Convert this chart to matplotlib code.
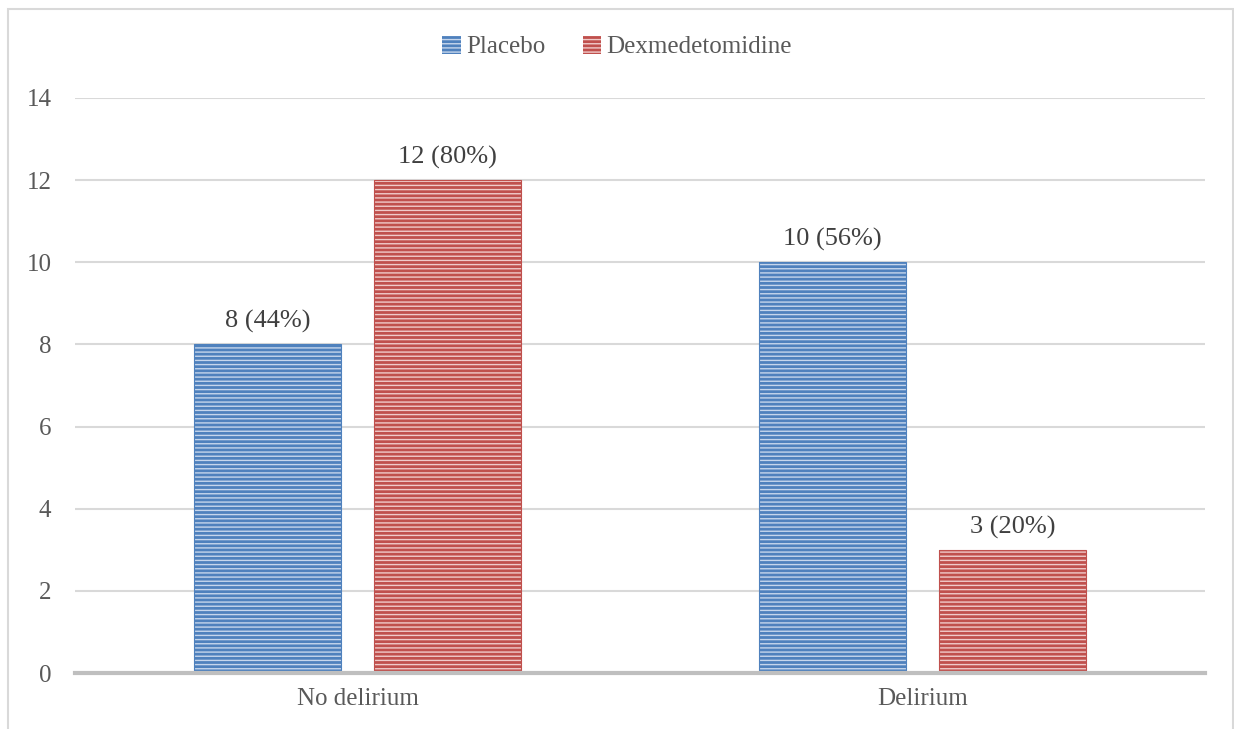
import numpy as np
import matplotlib
matplotlib.use("Agg")
import matplotlib.pyplot as plt
from matplotlib.patches import Rectangle, Patch

categories = ["No delirium", "Delirium"]
series = ["Placebo", "Dexmedetomidine"]
placebo = [8, 10]
dexmed = [12, 3]
placebo_labels = ["8 (44%)", "10 (56%)"]
dexmed_labels = ["12 (80%)", "3 (20%)"]

face_colors = ["#4f81bd", "#c0504d"]
stripe_colors = ["#c6d6ec", "#f0cbca"]

plt.rcParams["font.family"] = ["Liberation Serif", "DejaVu Serif"]
plt.rcParams["hatch.linewidth"] = 1.0

fig = plt.figure(figsize=(12.34, 7.29), dpi=100)
ax = fig.add_axes([0.0608, 0.0768, 0.9157, 0.7888])

# light frame around the chart area
fig.patches.append(Rectangle((8 / 1234, -0.1), 1225 / 1234, 1.1 - 9 / 729,
                             transform=fig.transFigure, fill=False,
                             edgecolor="#d9d9d9", linewidth=1.5))

x = np.arange(len(categories))
width = 0.26
offset = 0.159


def striped_bars(pos, vals, face, stripe):
    ax.bar(pos, vals, width, color=face, edgecolor="none", zorder=2)
    ax.bar(pos, vals, width, facecolor="none", edgecolor=stripe,
           hatch="----", linewidth=0, zorder=3)
    ax.bar(pos, vals, width, facecolor="none", edgecolor=face,
           linewidth=0.8, zorder=4)


striped_bars(x - offset, placebo, face_colors[0], stripe_colors[0])
striped_bars(x + offset, dexmed, face_colors[1], stripe_colors[1])

for pos, vals, labels in [(x - offset, placebo, placebo_labels),
                          (x + offset, dexmed, dexmed_labels)]:
    for p, v, lab in zip(pos, vals, labels):
        ax.annotate(lab, (p, v), xytext=(0, 8), textcoords="offset points",
                    ha="center", va="bottom", fontsize=19, color="#404040")

ax.set_xlim(-0.5, 1.5)
ax.set_ylim(0, 14)
ax.set_yticks(range(0, 15, 2))
ax.set_xticks(x)
ax.set_xticklabels(categories)
ax.tick_params(axis="both", length=0, labelsize=18, labelcolor="#595959")
ax.tick_params(axis="y", pad=17)
ax.tick_params(axis="x", pad=11)
ax.yaxis.grid(True, color="#d9d9d9", linewidth=1.5, zorder=0)
ax.set_axisbelow(True)
for side in ["top", "right", "left"]:
    ax.spines[side].set_visible(False)
ax.spines["bottom"].set_color("#bfbfbf")
ax.spines["bottom"].set_linewidth(3)
ax.spines["bottom"].set_zorder(5)

handles = [Patch(facecolor=face_colors[i], edgecolor=stripe_colors[i],
                 hatch="----", linewidth=0) for i in range(2)]
fig.legend(handles, series, loc="center", bbox_to_anchor=(0.5, 1 - 47 / 729),
           ncol=2, frameon=False, fontsize=18, labelcolor="#595959",
           handlelength=0.75, handleheight=0.75, handletextpad=0.2,
           columnspacing=1.5)

fig.savefig("out.png", dpi=100)
